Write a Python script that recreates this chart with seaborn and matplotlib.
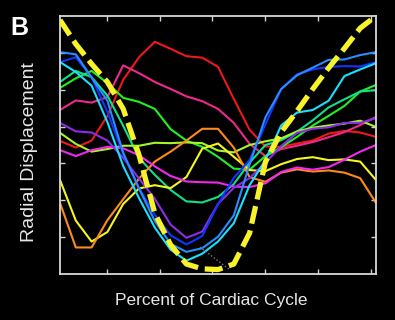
import matplotlib
matplotlib.use("Agg")
import matplotlib.pyplot as plt
import pandas as pd
import seaborn as sns

# Percent of cardiac cycle at which each track is sampled
pct = [0, 5, 10, 15, 20, 25, 30, 35, 40, 45, 50, 55, 60, 65, 70, 75, 80, 85, 90, 95, 100]

# Model (reference) curve, drawn dashed
model = [6.89, 6.24, 5.70, 5.21, 4.48, 3.23, 1.65, 0.79, 0.27, 0.14, 0.12, 0.27, 1.11, 3.04, 3.85, 4.42, 5.02, 5.59, 6.12, 6.67, 7.00]

# Measured radial displacement of the individual segments
red = [3.61, 3.43, 3.62, 4.29, 5.27, 5.88, 6.30, 6.11, 5.91, 5.87, 5.62, 4.75, 3.91, 3.46, 3.45, 3.54, 3.62, 3.81, 3.88, 3.84, 3.72]
pink = [4.45, 4.71, 4.65, 4.80, 5.66, 5.45, 5.21, 5.02, 4.82, 4.69, 4.48, 4.10, 3.53, 3.20, 3.39, 3.48, 3.58, 3.71, 3.85, 4.04, 4.26]
green = [5.05, 5.31, 5.51, 5.18, 4.78, 4.67, 4.48, 3.93, 3.62, 3.45, 3.18, 2.86, 2.83, 3.20, 3.44, 3.72, 4.03, 4.29, 4.56, 4.95, 5.13]
spring = [5.21, 5.51, 5.34, 4.84, 4.02, 3.15, 2.69, 2.28, 1.97, 1.94, 2.09, 2.44, 3.02, 3.50, 3.63, 3.86, 4.17, 4.52, 4.74, 4.95, 4.99]
lime = [3.83, 3.53, 3.32, 3.39, 3.48, 3.48, 3.56, 3.55, 3.57, 3.55, 3.35, 3.30, 3.50, 3.60, 3.68, 3.87, 3.97, 4.03, 4.08, 4.16, 3.99]
yellow = [2.55, 1.45, 0.88, 1.14, 1.90, 2.32, 2.41, 2.33, 2.63, 3.40, 3.54, 3.18, 2.82, 2.79, 2.98, 3.12, 3.17, 3.09, 3.11, 3.05, 2.55]
orange = [1.93, 0.72, 0.72, 1.46, 2.03, 2.59, 3.05, 3.32, 3.62, 3.94, 3.94, 3.43, 2.63, 2.50, 2.75, 2.84, 2.78, 2.81, 2.75, 2.60, 1.93]
magenta = [3.36, 3.20, 3.36, 3.45, 3.41, 3.22, 2.92, 2.66, 2.51, 2.49, 2.48, 2.37, 2.36, 2.46, 2.77, 2.89, 2.83, 2.90, 3.10, 3.32, 3.50]
purple = [4.10, 3.87, 3.84, 3.62, 3.15, 2.59, 2.04, 1.34, 0.98, 1.15, 1.90, 2.34, 2.60, 3.02, 3.47, 3.83, 3.94, 3.98, 4.10, 4.10, 4.23]
blue = [5.75, 5.88, 5.34, 4.40, 3.26, 2.33, 1.61, 1.05, 0.80, 1.03, 1.89, 2.61, 3.09, 4.06, 5.02, 5.42, 5.55, 5.62, 5.64, 5.63, 5.75]
dodger = [6.02, 5.96, 5.33, 4.70, 3.29, 2.32, 1.44, 0.82, 0.60, 0.70, 1.01, 1.59, 2.97, 4.25, 5.02, 5.39, 5.60, 5.81, 5.82, 5.94, 6.02]
cyan = [5.75, 5.48, 5.11, 4.12, 2.93, 2.06, 1.26, 0.66, 0.36, 0.55, 0.88, 1.38, 2.41, 3.09, 4.03, 4.38, 4.45, 4.70, 5.37, 5.55, 5.72]

# Short dotted fit segment near the minimum
fit_pct = [44.3, 53.8]
fit_val = [0.73, 0.11]

x_ticks = [14.9, 31.6, 48.1, 64.9, 81.6, 98.4]
y_ticks = [1, 2, 3, 4, 5, 6]

tracks = {
    "red": red, "pink": pink, "green": green, "spring": spring,
    "lime": lime, "yellow": yellow, "orange": orange, "magenta": magenta,
    "purple": purple, "blue": blue, "dodger": dodger, "cyan": cyan,
}
palette = {
    "red": "#f01818", "pink": "#f0288c", "green": "#22f022", "spring": "#10e08a",
    "lime": "#a6f52a", "yellow": "#f5f520", "orange": "#ff8a1a", "magenta": "#f028f0",
    "purple": "#8c2ee8", "blue": "#1234ff", "dodger": "#2a8cff", "cyan": "#18e0ff",
}

df = pd.DataFrame(
    [(p, v, name) for name, vals in tracks.items() for p, v in zip(pct, vals)],
    columns=["pct", "disp", "track"],
)

sns.set_theme(style="white")
plt.rcParams["font.family"] = ["Liberation Sans", "DejaVu Sans"]

fig = plt.figure(figsize=(3.95, 3.2), dpi=100, facecolor="black")
ax = fig.add_axes([60 / 395, 46 / 320, 316 / 395, 258 / 320])
ax.set_facecolor("black")

sns.lineplot(data=df, x="pct", y="disp", hue="track", palette=palette,
             estimator=None, sort=False, legend=False, lw=1.5, ax=ax)
sns.lineplot(x=fit_pct, y=fit_val, color="#7a7a7a", lw=1.0, linestyle=(0, (1, 1.5)),
             estimator=None, ax=ax, zorder=4)
sns.lineplot(x=pct, y=model, color="#f8f22a", lw=3.8, linestyle=(0, (3.4, 1.3)),
             estimator=None, sort=False, ax=ax, zorder=5)

ax.set_xlim(0, 100)
ax.set_ylim(0, 7)
ax.set_xticks(x_ticks)
ax.set_yticks(y_ticks)
ax.tick_params(direction="in", length=3.5, width=1.0, colors="#d0d0d0",
               top=True, right=True, bottom=True, left=True,
               labelbottom=False, labelleft=False)
for s in ax.spines.values():
    s.set_color("#d8d8d8")
    s.set_linewidth(1.3)

ax.set_xlabel("Percent of Cardiac Cycle", fontsize=12.5, color="#e6e6e6")
ax.xaxis.set_label_coords((211 - 60) / 316, (274 - 305) / 258)
ax.xaxis.label.set_va("baseline")
ax.set_ylabel("Radial Displacement", fontsize=14, color="#e6e6e6")
ax.yaxis.set_label_coords((34 - 60) / 316, (274 - 152) / 258)
ax.yaxis.label.set_va("baseline")

fig.text(10 / 395, 1 - 35 / 320, "B", fontsize=18, fontweight="bold",
         color="white", va="baseline", ha="left")

fig.savefig("out.png", dpi=100, facecolor="black")
